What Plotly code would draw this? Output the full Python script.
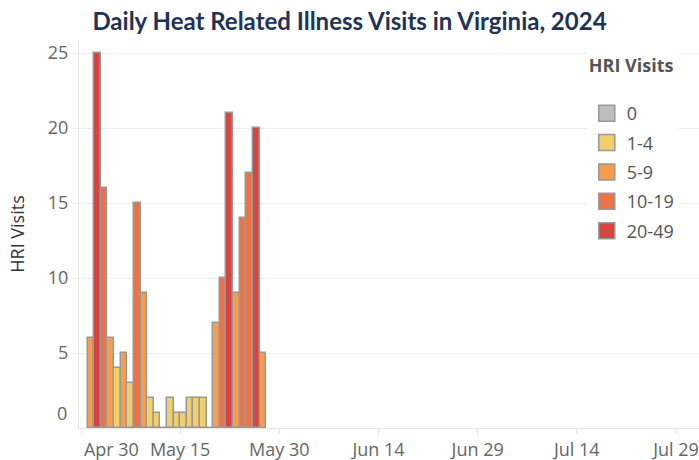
import plotly.graph_objects as go
import pandas as pd

# ---- data ----
dates = pd.date_range("2024-05-01", "2024-05-27", freq="D")
visits = [6, 25, 16, 6, 4, 5, 3, 15, 9, 2, 1, 0, 2, 1, 1, 2, 2, 2, 0,
          7, 10, 21, 9, 14, 17, 20, 5]
cat_labels = ["0", "1-4", "5-9", "10-19", "20-49"]
cat_bounds = [(0, 0), (1, 4), (5, 9), (10, 19), (20, 49)]
cat_colors = ["#BEBEBE", "#F2CF6B", "#F99D4B", "#EB7346", "#D64541"]
x_tick_dates = ["2024-04-30", "2024-05-15", "2024-05-30", "2024-06-14",
                "2024-06-29", "2024-07-14", "2024-07-29"]
x_tick_text = ["Apr 30", "May 15", "May 30", "Jun 14", "Jun 29", "Jul 14", "Jul 29"]
y_tick_vals = [5, 10, 15, 20, 25]

FONT = "Open Sans"
DAY_MS = 86400000

fig = go.Figure()

for lbl, (lo, hi), col in zip(cat_labels, cat_bounds, cat_colors):
    xs = [d for d, v in zip(dates, visits) if lo <= v <= hi]
    ys = [v for v in visits if lo <= v <= hi]
    fig.add_trace(go.Bar(
        x=xs, y=ys, offset=0, width=DAY_MS,
        marker=dict(color=col, line=dict(color="#999999", width=1.5)),
        showlegend=False, name=lbl, hovertemplate="%{x|%b %d}: %{y}<extra></extra>",
    ))

for lbl, col in zip(cat_labels, cat_colors):
    fig.add_trace(go.Scatter(
        x=[None], y=[None], mode="markers", name=lbl, legendgroup=lbl,
        marker=dict(symbol="square", size=18, color=col,
                    line=dict(color="#999999", width=1.5)),
    ))

pad_first = ["\u00a0" * 13 + x_tick_text[0]] + x_tick_text[1:]

fig.update_layout(
    width=699, height=460,
    margin=dict(l=79, r=0, t=40, b=32),
    plot_bgcolor="white", paper_bgcolor="white",
    bargap=0,
    title=dict(text="<b>Daily Heat Related Illness Visits in Virginia, 2024</b>",
               x=0.5, xref="container", xanchor="center",
               y=1 - 22 / 460, yref="container", yanchor="middle",
               font=dict(family="Lato", size=24, color="#1F3358")),
    font=dict(family=FONT, size=18, color="#666666"),
    xaxis=dict(
        type="date", automargin=False,
        range=["2024-04-29 16:45", "2024-08-01 11:30"],
        tickvals=x_tick_dates, ticktext=pad_first,
        showgrid=False, zeroline=False,
        showline=True, linecolor="#E6E6E6", linewidth=1,
        ticks="outside", ticklen=5, tickcolor="#E6E6E6",
        tickfont=dict(family=FONT, size=18, color="#666666"),
    ),
    yaxis=dict(
        range=[0, 25.87], automargin=False,
        tickvals=y_tick_vals,
        showgrid=True, gridcolor="#EEEEEE", gridwidth=1,
        zeroline=False,
        showline=True, linecolor="#E6E6E6", linewidth=1,
        ticks="outside", ticklen=6, tickcolor="#EEEEEE",
        tickfont=dict(family=FONT, size=18, color="#666666"),
        title=dict(text="HRI Visits", standoff=18,
                   font=dict(family=FONT, size=18, color="#333333")),
    ),
    legend=dict(
        x=0.819, y=0.979, xanchor="left", yanchor="top",
        bgcolor="white", borderwidth=0,
        traceorder="grouped", tracegroupgap=3,
        title=dict(text="<b>HRI Visits</b><br> ",
                   font=dict(family=FONT, size=18, color="#555555")),
        font=dict(family=FONT, size=18, color="#555555"),
        itemsizing="trace",
    ),
    annotations=[dict(
        text="0", x=0, xref="paper", xanchor="right", xshift=-10,
        y=1, yref="y", yanchor="middle", showarrow=False,
        font=dict(family=FONT, size=18, color="#666666"),
    )],
)

fig.write_html("out.html", config={"displayModeBar": False},
               post_script="document.body.style.margin='0';")
